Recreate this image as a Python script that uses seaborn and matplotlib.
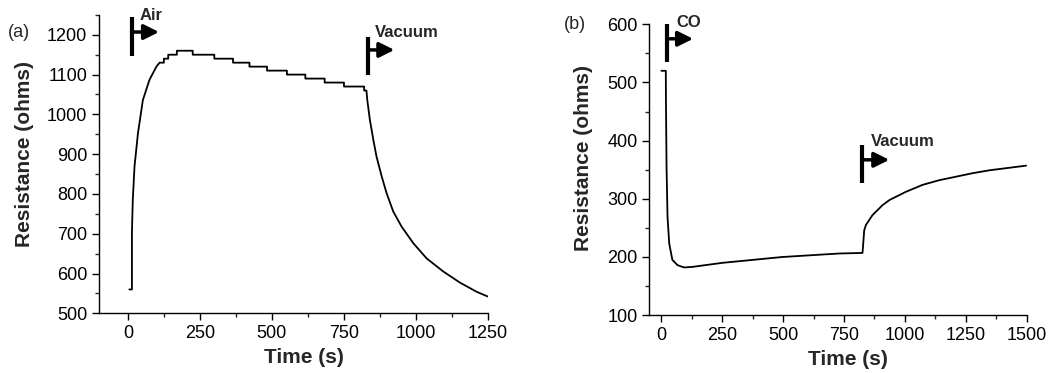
import numpy as np
import pandas as pd
import matplotlib
matplotlib.use("Agg")
import matplotlib.pyplot as plt
from matplotlib.ticker import AutoMinorLocator, MultipleLocator
import seaborn as sns

# (a) air then vacuum
time_a = [5, 14, 14, 17, 23, 35, 52, 75, 99, 110, 110, 125, 125, 140, 140, 170, 170, 225,
          225, 300, 300, 365, 365, 422, 422, 483, 483, 552, 552, 616, 616, 683, 683, 750,
          750, 820, 820, 828, 831, 840, 852, 863, 881, 898, 921, 950, 991, 1037, 1095,
          1153, 1211, 1250]
res_a = [560, 560, 701, 785, 869, 953, 1036, 1087, 1120, 1130, 1130, 1130, 1140, 1140, 1150, 1150, 1160, 1160,
         1150, 1150, 1140, 1140, 1130, 1130, 1120, 1120, 1110, 1110, 1100, 1100, 1090, 1090, 1080, 1080,
         1070, 1070, 1060, 1060, 1036, 986, 936, 894, 844, 802, 756, 718, 676, 638, 605,
         577, 554, 542]

# (b) CO then vacuum
time_b = [0, 18, 18.5, 21, 25, 32, 45, 66, 93, 127, 251, 497, 730, 826, 833, 840, 867, 908,
          937, 1004, 1073, 1141, 1210, 1278, 1347, 1498]
res_b = [520, 520, 470, 355, 269, 223, 195, 186, 182, 183, 190, 200, 206, 207, 246, 255, 272, 289,
         298, 312, 324, 332, 338, 344, 349, 357]

sns.set_style("ticks")
plt.rcParams['font.family'] = ['Liberation Sans', 'DejaVu Sans']
plt.rcParams['xtick.direction'] = 'out'
plt.rcParams['ytick.direction'] = 'out'

fig = plt.figure(figsize=(10.54, 3.73), dpi=100)
ax1 = fig.add_axes([0.094, 0.160, 0.369, 0.800])
ax2 = fig.add_axes([0.616, 0.155, 0.358, 0.780])

df_a = pd.DataFrame({"t": time_a, "r": res_a})
df_b = pd.DataFrame({"t": time_b, "r": res_b})
sns.lineplot(data=df_a, x="t", y="r", ax=ax1, estimator=None, sort=False, color="black", lw=1.3)
sns.lineplot(data=df_b, x="t", y="r", ax=ax2, estimator=None, sort=False, color="black", lw=1.3)


def marker(ax, x, y0, y1, ya, xend, label, tx, ty):
    ax.plot([x, x], [y0, y1], color="black", lw=3, solid_capstyle="butt", clip_on=False)
    ax.annotate("", xy=(xend, ya), xytext=(x, ya),
                arrowprops=dict(arrowstyle="-|>,head_width=0.45,head_length=0.9",
                                color="black", lw=2.5, shrinkA=0, shrinkB=0),
                annotation_clip=False)
    ax.text(tx, ty, label, fontsize=12, fontweight="bold", va="center", ha="left")


marker(ax1, 16, 1147, 1245, 1207, 108, "Air", 41, 1248)
marker(ax1, 833, 1100, 1195, 1162, 925, "Vacuum", 858, 1205)
marker(ax2, 22, 535, 600, 575, 130, "CO", 60, 603)
marker(ax2, 824, 327, 392, 367, 936, "Vacuum", 860, 398)

ax1.set_xlim(-100, 1250)
ax1.set_ylim(500, 1250)
ax1.xaxis.set_major_locator(MultipleLocator(250))
ax1.yaxis.set_major_locator(MultipleLocator(100))
ax2.set_xlim(-50, 1500)
ax2.set_ylim(100, 600)
ax2.xaxis.set_major_locator(MultipleLocator(250))
ax2.yaxis.set_major_locator(MultipleLocator(100))

for ax in (ax1, ax2):
    sns.despine(ax=ax)
    ax.xaxis.set_minor_locator(AutoMinorLocator(2))
    ax.yaxis.set_minor_locator(AutoMinorLocator(2))
    ax.tick_params(which="major", length=5, width=1, labelsize=13, colors="black")
    ax.tick_params(which="minor", length=3, width=1)
    for s in ("left", "bottom"):
        ax.spines[s].set_linewidth(1)
        ax.spines[s].set_color("black")
    ax.set_xlabel("Time (s)", fontsize=15, fontweight="bold", labelpad=4.5, x=0.527)

ax1.set_ylabel("Resistance (ohms)", fontsize=15, fontweight="bold", labelpad=9, y=0.534)
ax2.set_ylabel("Resistance (ohms)", fontsize=15, fontweight="bold", labelpad=10, y=0.54)

fig.text(0.007, 0.912, "(a)", fontsize=13, va="center", ha="left")
fig.text(0.535, 0.935, "(b)", fontsize=13, va="center", ha="left")

fig.savefig("out.png", dpi=100)
